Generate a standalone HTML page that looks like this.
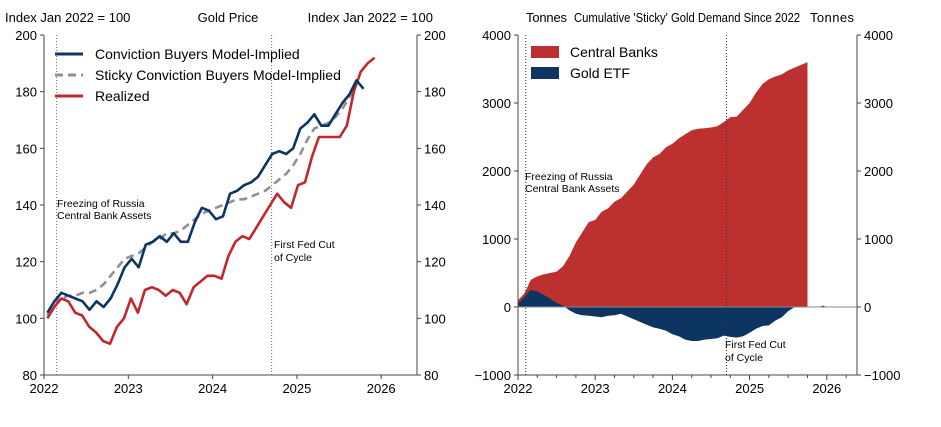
<!DOCTYPE html>
<html><head><meta charset="utf-8"><style>
body{margin:0;background:#fff;}
svg{display:block;font-family:"Liberation Sans",Arial,sans-serif;}
</style></head><body>
<svg id="c" width="941" height="427"></svg>
<script>
const years=[2022,2023,2024,2025,2026];
const leftTicks=[80,100,120,140,160,180,200];
const rightTicks=[-1000,0,1000,2000,3000,4000];
const realized=[100,104,107,106,102,101,97,95,92,91,97,100,107,102,110,111,110,108,110,109,105,111,113,115,115,114,122,127,129,128,132,136,140,144,141,139,147,148,157,164,164,164,164,168,180,187,190,192];
const conviction=[102,106,109,108,107,106,103,106,104,107,112,118,121,118,126,127,129,127,130,127,127,134,139,138,135,136,144,145,147,148,150,154,158,159,158,160,167,169,172,168,168,172,176,179,184,181];
const sticky=[101,106,107,108,108,109,109,110,112,115,118,121,122,123,125,127,128,130,130,131,133,135,137,138,139,140,141,142,142,143,144,145,147,149,151,154,158,163,167,168,169,171,174,178,183];
const centralBanks=[100,200,400,450,480,500,520,600,750,950,1100,1250,1280,1400,1450,1550,1600,1700,1800,1950,2100,2200,2250,2350,2400,2480,2540,2600,2620,2630,2640,2660,2720,2790,2800,2900,3000,3150,3280,3350,3390,3420,3480,3520,3560,3600];
const goldEtf=[50,150,250,230,180,120,60,20,-50,-100,-120,-130,-140,-150,-130,-120,-100,-140,-180,-220,-260,-300,-320,-350,-400,-430,-480,-500,-500,-480,-470,-460,-420,-440,-450,-430,-380,-320,-280,-270,-200,-150,-60,0];

const svg=document.getElementById('c');
const NS='http://www.w3.org/2000/svg';
function el(tag,attrs,parent){const e=document.createElementNS(NS,tag);for(const k in attrs)e.setAttribute(k,attrs[k]);(parent||svg).appendChild(e);return e;}
function txt(x,y,s,anchor,size){const t=el('text',{x:x,y:y,'font-size':size||13,'text-anchor':anchor||'start',fill:'#000'});t.textContent=s;return t;}

const lx=y=>44+(y-2022)*84.3;
const ly=v=>375-(v-80)*340/120;
const rx=y=>518+(y-2022)*77.2;
const ry=v=>307-v*0.068;

let a=el('line',{x1:44,y1:35,x2:44,y2:375,stroke:'#444'});

a=el('line',{x1:417,y1:35,x2:417,y2:375,stroke:'#444'});

a=el('line',{x1:44,y1:375,x2:417,y2:375,stroke:'#444'});

leftTicks.forEach(v=>{
  el('line',{x1:40,y1:ly(v),x2:44,y2:ly(v),stroke:'#444'});
  el('line',{x1:417,y1:ly(v),x2:421,y2:ly(v),stroke:'#444'});
  let t=txt(37,ly(v)+5,String(v),'end',13);
  
  t=txt(424,ly(v)+5,String(v),'start',13);
  
});
years.forEach(y=>{
  el('line',{x1:lx(y),y1:375,x2:lx(y),y2:379,stroke:'#444'});
  const t=txt(lx(y),393,String(y),'middle',13);
  
});
el('line',{x1:lx(2022.15),y1:35,x2:lx(2022.15),y2:375,stroke:'#666','stroke-dasharray':'1,2'});
el('line',{x1:lx(2024.7),y1:35,x2:lx(2024.7),y2:375,stroke:'#666','stroke-dasharray':'1,2'});
txt(57,207,'Freezing of Russia','start',10.5);txt(57,219,'Central Bank Assets','start',10.5);
txt(274,248,'First Fed Cut','start',10.5);txt(274,261,'of Cycle','start',10.5);

function line(arr,start,step,color,dash,name){
  const d=arr.map((v,i)=>(i?'L':'M')+lx(2022+start+i*step).toFixed(1)+','+ly(v).toFixed(1)).join('');
  const p=el('path',{d:d,fill:'none',stroke:color,'stroke-width':2.6,'stroke-dasharray':dash||'none','stroke-linejoin':'round'});
  
}
line(sticky,0.04,1/12,'#909090','8,5','sticky-conviction-line');
line(realized,0.04,0.0826,'#c0282d',null,'realized-line');
line(conviction,0.04,1/12,'#0d3561',null,'conviction-line');

[['#0d3561','none','Conviction Buyers Model-Implied'],['#909090','8,5','Sticky Conviction Buyers Model-Implied'],['#c0282d','none','Realized']].forEach((e,i)=>{
  const y=54+i*21;
  el('line',{x1:55,y1:y,x2:83,y2:y,stroke:e[0],'stroke-width':3,'stroke-dasharray':e[1]});
  const t=txt(95,y+5,e[2],'start',14);
  
});
txt(5,22,'Index Jan 2022 = 100','start',13);
let tt=txt(228,22,'Gold Price','middle',13);

txt(433,22,'Index Jan 2022 = 100','end',13);

function area(arr,color,name){
  let d='M'+rx(2022).toFixed(1)+','+ry(0);
  arr.forEach((v,i)=>{d+='L'+rx(2022+i/12).toFixed(1)+','+ry(v).toFixed(1);});
  d+='L'+rx(2022+(arr.length-1)/12).toFixed(1)+','+ry(0)+'Z';
  const p=el('path',{d:d,fill:color});
  
}
area(centralBanks,'#bd3030','central-banks-area');
area(goldEtf,'#0d3561','gold-etf-area');
el('path',{d:'M'+rx(2025.9)+','+ry(0)+'L'+rx(2025.95)+','+ry(20)+'L'+rx(2026)+','+ry(0)+'Z',fill:'#0d3561'});

a=el('line',{x1:518,y1:35,x2:518,y2:375,stroke:'#444'});

a=el('line',{x1:857,y1:35,x2:857,y2:375,stroke:'#444'});

a=el('line',{x1:518,y1:375,x2:857,y2:375,stroke:'#444'});

el('line',{x1:518,y1:ry(0),x2:857,y2:ry(0),stroke:'#888'});
rightTicks.forEach(v=>{
  el('line',{x1:514,y1:ry(v),x2:518,y2:ry(v),stroke:'#444'});
  el('line',{x1:857,y1:ry(v),x2:861,y2:ry(v),stroke:'#444'});
  let t=txt(511,ry(v)+5,String(v).replace('-','\u2212'),'end',13);
  
  t=txt(864,ry(v)+5,String(v).replace('-','\u2212'),'start',13);
  
});
for(let q=0;q<=17;q++){const x=rx(2022+q/4);if(x>857)break;el('line',{x1:x,y1:375,x2:x,y2:(q%4?378:380),stroke:'#444'});}
years.forEach(y=>{
  const t=txt(rx(y),393,String(y),'middle',13);
  
});
el('line',{x1:rx(2022.1),y1:35,x2:rx(2022.1),y2:375,stroke:'#333','stroke-dasharray':'1,2'});
el('line',{x1:rx(2024.7),y1:35,x2:rx(2024.7),y2:375,stroke:'#333','stroke-dasharray':'1,2'});
txt(525,180,'Freezing of Russia','start',10.5);txt(525,192,'Central Bank Assets','start',10.5);
txt(725,348,'First Fed Cut','start',10.5);txt(725,361,'of Cycle','start',10.5);
[['#bd3030','Central Banks'],['#0d3561','Gold ETF']].forEach((e,i)=>{
  const y=52+i*21;
  el('rect',{x:531,y:y-6,width:28,height:12,fill:e[0]});
  const t=txt(570,y+5,e[1],'start',14);
  
});
let t1=txt(526,22,'Tonnes','start',13);t1.setAttribute('textLength','41');
tt=txt(574,22,"Cumulative 'Sticky' Gold Demand Since 2022",'start',13);
tt.setAttribute('textLength','226');tt.setAttribute('lengthAdjust','spacingAndGlyphs');

let t2=txt(810,22,'Tonnes','start',13);t2.setAttribute('textLength','44');
</script>
</body></html>
